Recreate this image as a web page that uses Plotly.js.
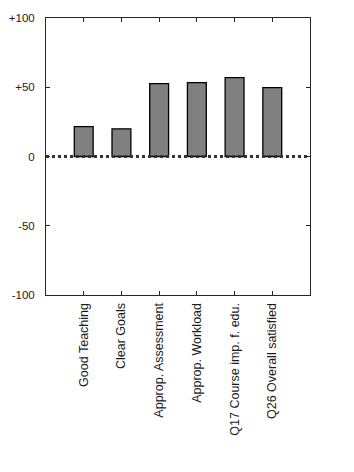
<!DOCTYPE html>
<html><head><meta charset="utf-8">
<script src="https://cdn.plot.ly/plotly-3.0.1.min.js"></script>
<style>html,body{margin:0;padding:0;background:#fff;}#c{width:354px;height:472px;}</style>
</head><body><div id="c"></div>
<script>
const categories = ["Good Teaching", "Clear Goals", "Approp. Assessment", "Approp. Workload", "Q17 Course imp. f. edu.", "Q26 Overall satisfied"];
const positions = [1, 2, 3, 4, 5, 6];
const values = [21.5, 20, 52.6, 53.4, 57, 49.8];
const yTickVals = [-100, -50, 0, 50, 100];
const yTickText = ["-100", "-50", "0", "+50", "+100"];

const trace = {
  type: "bar", x: positions, y: values, width: 0.5,
  marker: {color: "#808080", line: {color: "#000", width: 1.3}},
  hoverinfo: "none"
};
const layout = {
  width: 354, height: 472,
  margin: {l: 46, r: 44, t: 18, b: 177},
  paper_bgcolor: "#fff", plot_bgcolor: "#fff",
  showlegend: false,
  font: {family: "Liberation Sans, Arial, sans-serif", size: 11, color: "#262626"},
  xaxis: {
    range: [0, 7], tickvals: positions, ticktext: categories, tickangle: -90,
    ticks: "inside", ticklen: 4, tickcolor: "#262626", showline: true, linecolor: "#262626", linewidth: 1,
    mirror: "allticks", showgrid: false, zeroline: false, tickfont: {size: 12.5, color: "#1a1a1a"},
    ticklabelstandoff: 2
  },
  yaxis: {
    range: [-100, 100], tickvals: yTickVals, ticktext: yTickText,
    ticks: "inside", ticklen: 4, tickcolor: "#262626", showline: true, linecolor: "#262626", linewidth: 1,
    mirror: "allticks", showgrid: false, zeroline: false, tickfont: {size: 11.5, color: "#1a1a1a"},
    ticklabelstandoff: 8
  },
  shapes: [{type: "line", xref: "x", yref: "y", x0: 0, x1: 7, y0: 0, y1: 0,
    line: {color: "#333", width: 3, dash: "dot"}, layer: "above"}]
};
Plotly.newPlot("c", [trace], layout, {staticPlot: true, displayModeBar: false});
</script></body></html>
